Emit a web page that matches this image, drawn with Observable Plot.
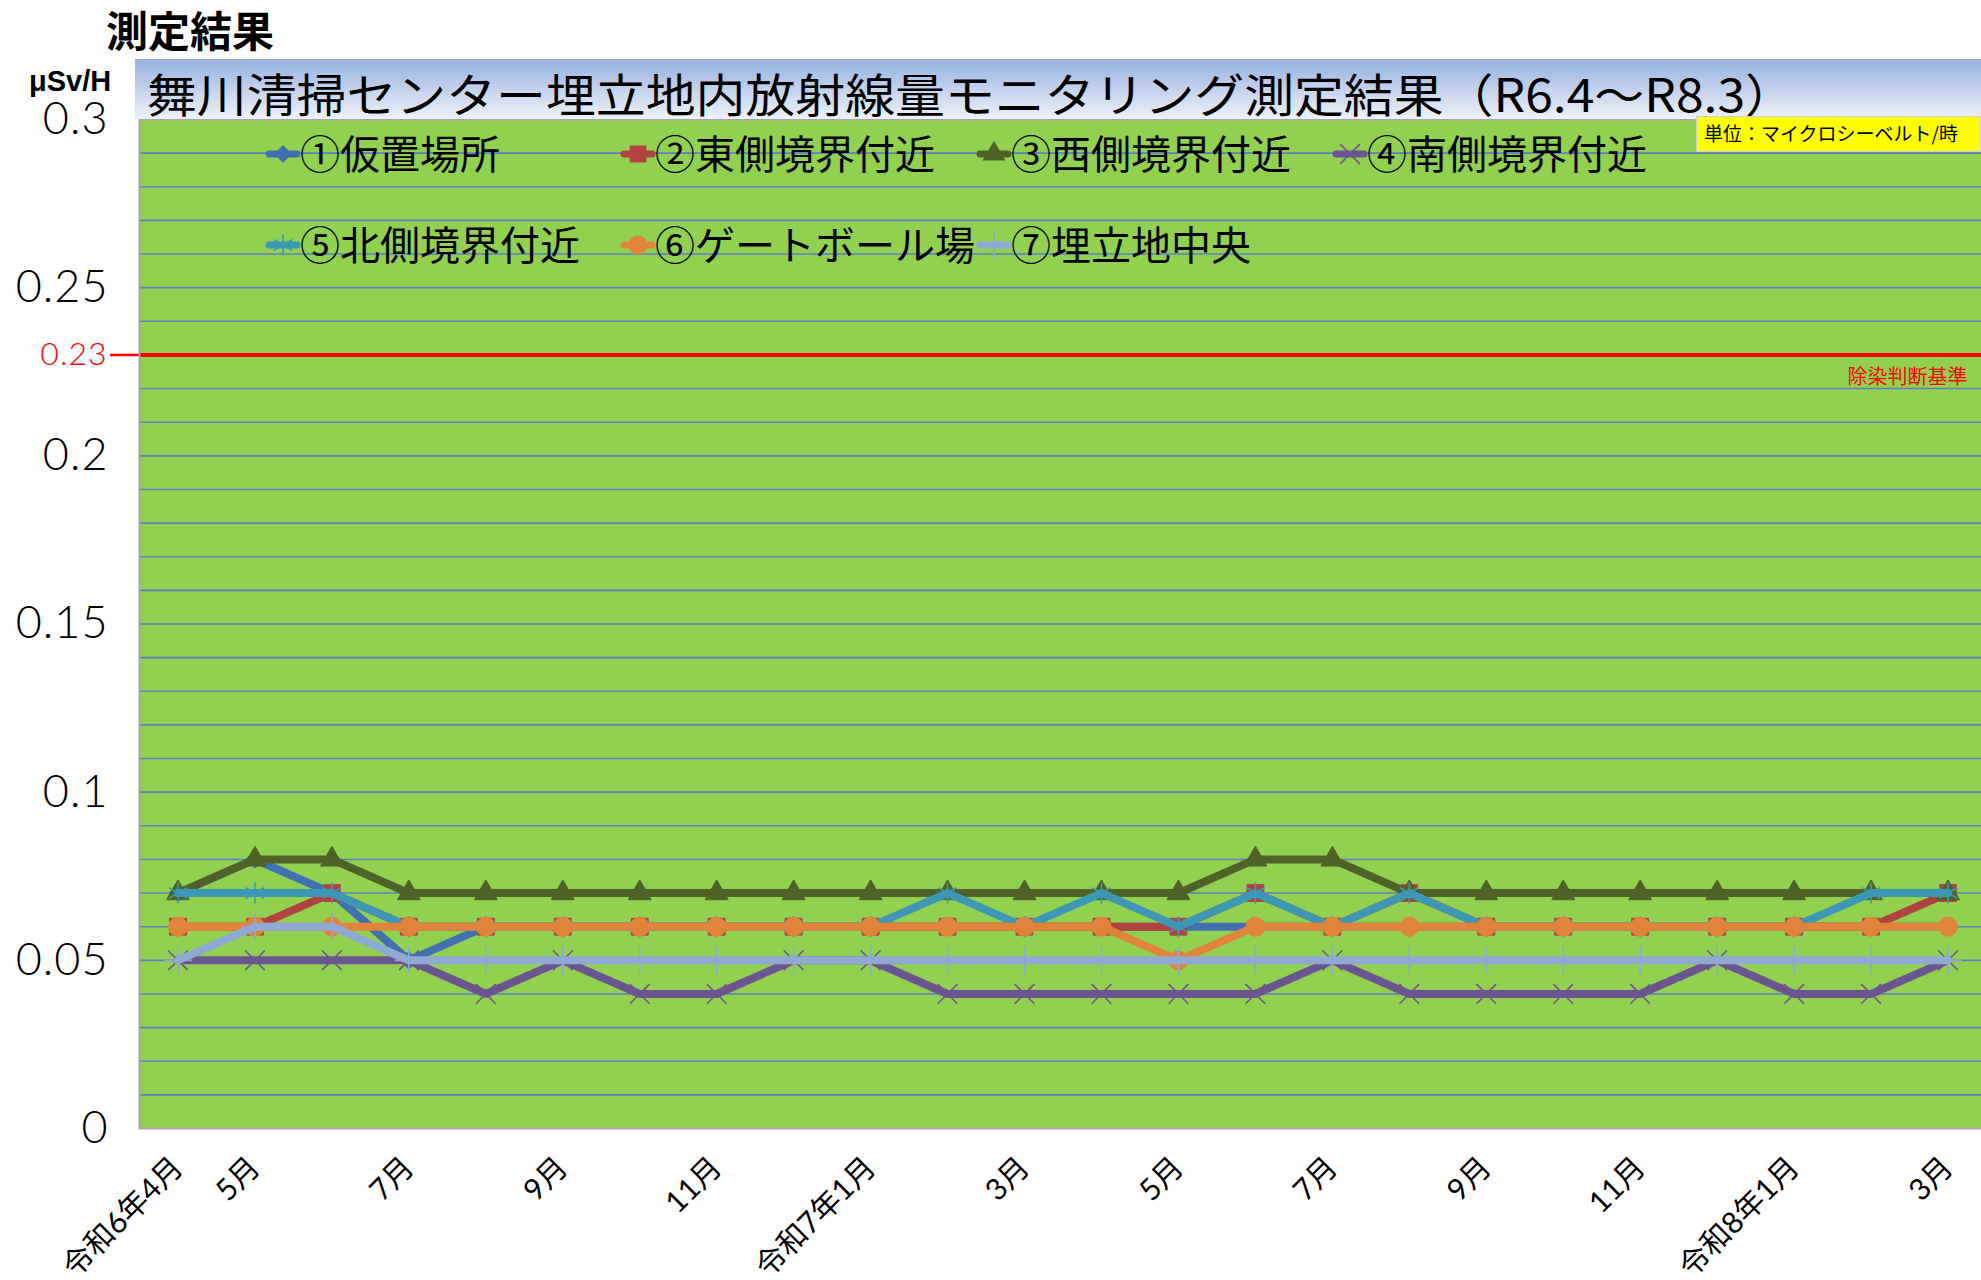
<!DOCTYPE html>
<html><head><meta charset="utf-8">
<script src="https://cdn.jsdelivr.net/npm/d3@7"></script>
<script src="https://cdn.jsdelivr.net/npm/@observablehq/plot@0.6"></script>
<style>
html,body{margin:0;padding:0;}
body{width:1981px;height:1280px;overflow:hidden;position:relative;background:#fff;font-family:"Noto Sans CJK JP",sans-serif;color:#000;}
#hdr{height:60px;position:relative;}
#hdrTitle{position:absolute;left:106px;top:8px;font-size:42px;line-height:42px;font-weight:700;white-space:nowrap;}
#chart{position:relative;width:1986px;height:1220px;}
#chart svg g[aria-label="y-axis tick label"] text{letter-spacing:1px;}
.ov{position:absolute;white-space:nowrap;}
#band{left:135px;top:59px;width:1846px;height:60px;background:linear-gradient(#97B1DF,#EEF2FA);}
#unit{left:29px;top:76px;font-family:"Liberation Sans Narrow","Liberation Sans",sans-serif;font-weight:700;font-size:29px;line-height:10px;}
#ubox{left:1696px;top:116px;width:285px;height:36px;background:#FFFF00;border:1px solid #d0d0d0;box-sizing:border-box;}
#utext{left:1704px;top:123px;font-size:19px;line-height:19px;}
.lg{position:absolute;white-space:nowrap;font-size:40px;line-height:40px;}
</style></head><body>
<div id="hdr"><div id="hdrTitle">測定結果</div></div>
<div id="chart"></div>
<script>
// ---- data ----
const months = ["R6.4","R6.5","R6.6","R6.7","R6.8","R6.9","R6.10","R6.11","R6.12","R7.1","R7.2","R7.3","R7.4","R7.5","R7.6","R7.7","R7.8","R7.9","R7.10","R7.11","R7.12","R8.1","R8.2","R8.3"];
const tickMonths = ["R6.4","R6.5","R6.7","R6.9","R6.11","R7.1","R7.3","R7.5","R7.7","R7.9","R7.11","R8.1","R8.3"];
const tickLabels = ["令和6年4月","5月","7月","9月","11月","令和7年1月","3月","5月","7月","9月","11月","令和8年1月","3月"];
const seriesNames = ["①仮置場所","②東側境界付近","③西側境界付近","④南側境界付近","⑤北側境界付近","⑥ゲートボール場","⑦埋立地中央"];
const s1 = [0.07,0.08,0.07,0.05,0.06,0.06,0.06,0.06,0.06,0.06,0.06,0.06,0.06,0.06,0.06,0.06,0.06,0.06,0.06,0.06,0.06,0.06,0.06,0.06];
const s2 = [0.06,0.06,0.07,0.06,0.06,0.06,0.06,0.06,0.06,0.06,0.06,0.06,0.06,0.06,0.07,0.06,0.07,0.06,0.06,0.06,0.06,0.06,0.06,0.07];
const s3 = [0.07,0.08,0.08,0.07,0.07,0.07,0.07,0.07,0.07,0.07,0.07,0.07,0.07,0.07,0.08,0.08,0.07,0.07,0.07,0.07,0.07,0.07,0.07,0.07];
const s4 = [0.05,0.05,0.05,0.05,0.04,0.05,0.04,0.04,0.05,0.05,0.04,0.04,0.04,0.04,0.04,0.05,0.04,0.04,0.04,0.04,0.05,0.04,0.04,0.05];
const s5 = [0.07,0.07,0.07,0.06,0.06,0.06,0.06,0.06,0.06,0.06,0.07,0.06,0.07,0.06,0.07,0.06,0.07,0.06,0.06,0.06,0.06,0.06,0.07,0.07];
const s6 = [0.06,0.06,0.06,0.06,0.06,0.06,0.06,0.06,0.06,0.06,0.06,0.06,0.06,0.05,0.06,0.06,0.06,0.06,0.06,0.06,0.06,0.06,0.06,0.06];
const s7 = [0.05,0.06,0.06,0.05,0.05,0.05,0.05,0.05,0.05,0.05,0.05,0.05,0.05,0.05,0.05,0.05,0.05,0.05,0.05,0.05,0.05,0.05,0.05,0.05];
const seriesValues = [s1,s2,s3,s4,s5,s6,s7];
const yTicks = [0,0.05,0.1,0.15,0.2,0.25,0.3];
const gridTicks = [0.01,0.02,0.03,0.04,0.05,0.06,0.07,0.08,0.09,0.1,0.11,0.12,0.13,0.14,0.15,0.16,0.17,0.18,0.19,0.2,0.21,0.22,0.23,0.24,0.25,0.26,0.27,0.28,0.29];
const threshold = 0.23;
const thresholdLabel = "除染判断基準";
const chartTitle = "舞川清掃センター埋立地内放射線量モニタリング測定結果（R6.4～R8.3）";
const unitAxis = "μSv/H";
const unitNote = "単位：マイクロシーベルト/時";

// ---- styles ----
const colors = ["#4170B0","#B04340","#4F6228","#6B5591","#3C98B5","#E0843C","#8FA8D4"];
const symbols = ["diamond2","square","triangle","times","asterisk","circle","plus"];
const strokeSym = [false,false,false,true,true,false,true];
const symR = [8,9.5,8.5,9,10,9.5,9];
const legendPos = [[283,154],[638,154],[994,154],[1350,154],[283,245],[638,245],[994,245]];

const rows = seriesValues.map((vals,i)=>months.map((m,j)=>({month:m, value:vals[j], series:seriesNames[i]})));

const axisFont = "Lato, 'Noto Sans CJK JP', sans-serif";
const marks = [
  Plot.frame({fill:"#92D050", stroke:null}),
  Plot.gridY(gridTicks, {stroke:"#5B7FC0", strokeOpacity:1, strokeWidth:1.6}),
  Plot.ruleY([threshold], {stroke:"#FF0000", strokeWidth:4}),
  Plot.text([threshold], {y:d=>d, text:()=>thresholdLabel, frameAnchor:"right", textAnchor:"end", dx:-19, dy:23, fill:"#FF0000", fontSize:20, fontFamily:"'Noto Sans CJK JP', sans-serif"}),
  Plot.axisY(yTicks, {tickSize:0, tickPadding:31, fontSize:45, fontWeight:300, fontFamily:"Lato", tickFormat:d=>String(d)}),
  Plot.axisY([threshold], {tickSize:29, tickPadding:3, stroke:"#FF0000", strokeWidth:2.5, fill:"#FF0000", fontSize:32, fontWeight:300, fontFamily:"Lato", tickFormat:d=>String(d)}),
  Plot.axisX(tickMonths, {tickSize:0, tickPadding:34, dx:0, tickRotate:-45, fontSize:30, fontFamily:axisFont, tickFormat:d=>tickLabels[tickMonths.indexOf(d)]})
];
rows.forEach((data,i)=>{
  marks.push(Plot.line(data, {x:"month", y:"value", stroke:colors[i], strokeWidth:8, strokeLinejoin:"miter"}));
  if (strokeSym[i]) {
    marks.push(Plot.dot(data, {x:"month", y:"value", symbol:symbols[i], r:symR[i], stroke:colors[i], strokeWidth:1.6, fill:"none"}));
  } else {
    marks.push(Plot.dot(data, {x:"month", y:"value", symbol:symbols[i], r:symR[i], fill:colors[i], stroke:colors[i], strokeWidth:1}));
  }
});
marks.push(Plot.frame({stroke:"#A6A6A6", strokeWidth:2, fill:null}));

const chart = Plot.plot({
  width:1986, height:1220,
  marginTop:59, marginBottom:152, marginLeft:139, marginRight:0,
  style:{background:"transparent", maxWidth:"none", fontFamily:axisFont, color:"#000", overflow:"visible"},
  x:{type:"point", domain:months, padding:0.5, round:false, label:null},
  y:{domain:[0,0.3], label:null},
  marks
});
document.getElementById("chart").appendChild(chart);

// ---- overlays: title band, unit labels, legend ----
function ov(id, cls, text){ const d=document.createElement("div"); d.id=id; d.className=cls; if(text!=null) d.textContent=text; document.body.appendChild(d); return d; }
ov("band","ov");
const tsvg = d3.create("svg").attr("width",1981).attr("height",60)
  .style("position","absolute").style("left","0px").style("top","59px").style("overflow","visible");
tsvg.append("text").attr("x",147).attr("y",53).attr("textLength",1648).attr("lengthAdjust","spacingAndGlyphs")
  .attr("font-family","'Noto Sans CJK JP', sans-serif").attr("font-size",46).attr("fill","#000").text(chartTitle);
document.body.appendChild(tsvg.node());
ov("unit","ov",unitAxis);
ov("ubox","ov");
ov("utext","ov",unitNote);

const symMap = {diamond2:d3.symbolDiamond2, square:d3.symbolSquare, triangle:d3.symbolTriangle, times:d3.symbolTimes, asterisk:d3.symbolAsterisk, circle:d3.symbolCircle, plus:d3.symbolPlus};
seriesNames.forEach((name,i)=>{
  const [cx,cy] = legendPos[i];
  const sw = d3.create("svg").attr("width",40).attr("height",30)
    .style("position","absolute").style("left",(cx-20)+"px").style("top",(cy-15)+"px").style("overflow","visible");
  sw.append("line").attr("x1",6).attr("x2",34).attr("y1",15).attr("y2",15)
    .attr("stroke",colors[i]).attr("stroke-width",7).attr("stroke-linecap","round");
  const p = sw.append("path").attr("transform","translate(20,15)")
    .attr("d", d3.symbol(symMap[symbols[i]], Math.PI*symR[i]*symR[i])());
  if (strokeSym[i]) p.attr("fill","none").attr("stroke",colors[i]).attr("stroke-width",1.6);
  else p.attr("fill",colors[i]);
  document.body.appendChild(sw.node());
  const lt = document.createElement("div");
  lt.className = "lg"; lt.textContent = name;
  lt.style.left = (cx+17)+"px"; lt.style.top = (cy-22)+"px";
  document.body.appendChild(lt);
});
</script>
</body></html>
